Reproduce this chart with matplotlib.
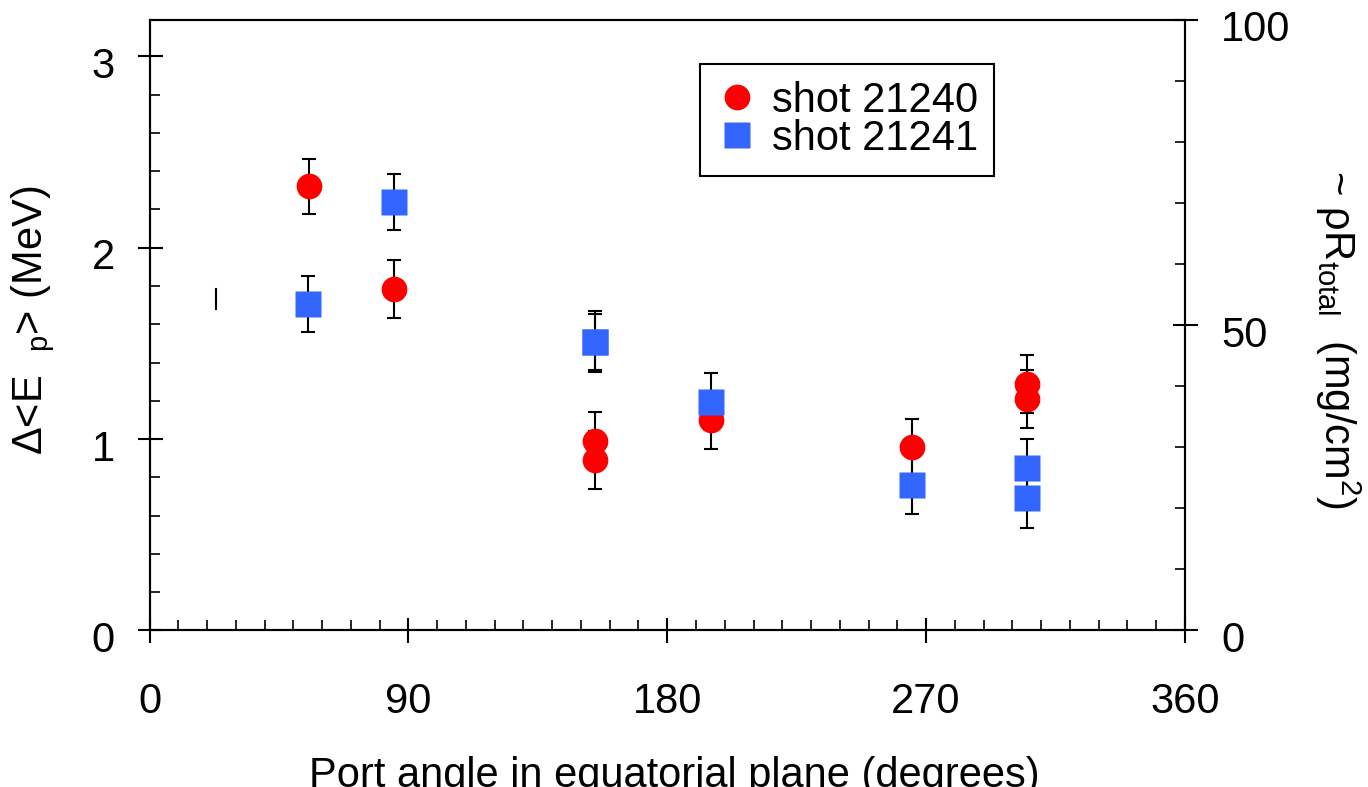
import matplotlib
matplotlib.use('Agg')
import matplotlib.pyplot as plt
from matplotlib.ticker import MultipleLocator
from matplotlib.transforms import ScaledTranslation

plt.rcParams['font.family'] = ['Liberation Sans', 'DejaVu Sans']
plt.rcParams['font.size'] = 30
plt.rcParams['mathtext.fontset'] = 'custom'
plt.rcParams['mathtext.rm'] = 'Liberation Sans'
plt.rcParams['mathtext.it'] = 'Liberation Sans:italic'

# shot 21240 (red circles)
angle_21240 = [55.4, 85.1, 154.9, 154.9, 195.2, 265.2, 305.0, 305.0]
dE_21240 = [2.32, 1.785, 0.99, 0.89, 1.10, 0.957, 1.287, 1.21]
err_21240 = [0.145, 0.15, 0.15, 0.15, 0.15, 0.148, 0.15, 0.15]

# shot 21241 (blue squares)
angle_21241 = [55.1, 84.9, 154.9, 154.9, 195.2, 265.2, 305.0, 305.0]
dE_21241 = [1.705, 2.24, 1.508, 1.508, 1.196, 0.761, 0.848, 0.691]
err_21241 = [0.147, 0.147, 0.16, 0.145, 0.15, 0.154, 0.15, 0.154]

# stray error segment
stray_angle = [23.0, 23.0]
stray_dE = [1.68, 1.784]

red = '#ff0000'
blue = '#3366ff'

fig = plt.figure(figsize=(13.68, 7.87), dpi=100)
ax = fig.add_axes([0.1093, 0.1989, 0.7569, 0.7757])
ax2 = ax.twinx()

ax.errorbar(angle_21240, dE_21240, yerr=err_21240, fmt='none', ecolor='black',
            elinewidth=1.5, capsize=4.7, capthick=1.5, zorder=2)
ax.errorbar(angle_21241, dE_21241, yerr=err_21241, fmt='none', ecolor='black',
            elinewidth=1.5, capsize=4.7, capthick=1.5, zorder=2)
ax.plot(stray_angle, stray_dE, color='black', lw=1.5, zorder=2)
ax.plot(angle_21240, dE_21240, 'o', color=red, ms=18.5, mec='none',
        label='shot 21240', zorder=3)
ax.plot(angle_21241, dE_21241, 's', color=blue, ms=18.5, mec='none',
        label='shot 21241', zorder=3)

ax.set_xlim(0, 360)
ax.set_ylim(0, 3.19)
ax2.set_ylim(0, 100)

ax.xaxis.set_major_locator(MultipleLocator(90))
ax.xaxis.set_minor_locator(MultipleLocator(10))
ax.yaxis.set_major_locator(MultipleLocator(1))
ax.yaxis.set_minor_locator(MultipleLocator(0.2))
ax2.yaxis.set_major_locator(MultipleLocator(50))
ax2.yaxis.set_minor_locator(MultipleLocator(10))

for a in (ax, ax2):
    for s in a.spines.values():
        s.set_linewidth(1.5)
ax.tick_params(axis='x', which='major', direction='inout', length=18, width=1.5,
               pad=28, top=False)
ax.tick_params(axis='x', which='minor', direction='in', length=7.2, width=1.2, top=False)
ax.tick_params(axis='y', which='major', direction='inout', length=18, width=1.5, pad=16)
ax.tick_params(axis='y', which='minor', direction='in', length=7.2, width=1.2)
ax2.tick_params(axis='y', which='major', direction='inout', length=18, width=1.5, pad=17)
ax2.tick_params(axis='y', which='minor', direction='in', length=7.2, width=1.2)

# nudge the y tick numbers slightly below their ticks
shift = ScaledTranslation(0, -0.06, fig.dpi_scale_trans)
for lab in ax.get_yticklabels() + ax2.get_yticklabels():
    lab.set_transform(lab.get_transform() + shift)

ax.set_xlabel('Port angle in equatorial plane (degrees)')
ax.xaxis.set_label_coords(0.507, -0.205)
ax.set_ylabel(r'Δ<E  ${}_{\mathrm{p}}$> (MeV)')
ax.yaxis.set_label_coords(-0.089, 0.508)
ax2.set_ylabel(r'~ ρR$_{\mathrm{total}}$  (mg/cm$^{2}$)', rotation=270, va='bottom')
ax2.yaxis.set_label_coords(1.124, 0.477)

leg = ax.legend(loc='upper left', bbox_to_anchor=(0.5316, 0.928), borderaxespad=0,
                numpoints=1, handlelength=0.97, handletextpad=0.35, borderpad=0.4,
                labelspacing=-0.04, fancybox=False, framealpha=1)
leg.get_frame().set_edgecolor('black')
leg.get_frame().set_linewidth(1.5)

fig.savefig('out.png', dpi=100)
